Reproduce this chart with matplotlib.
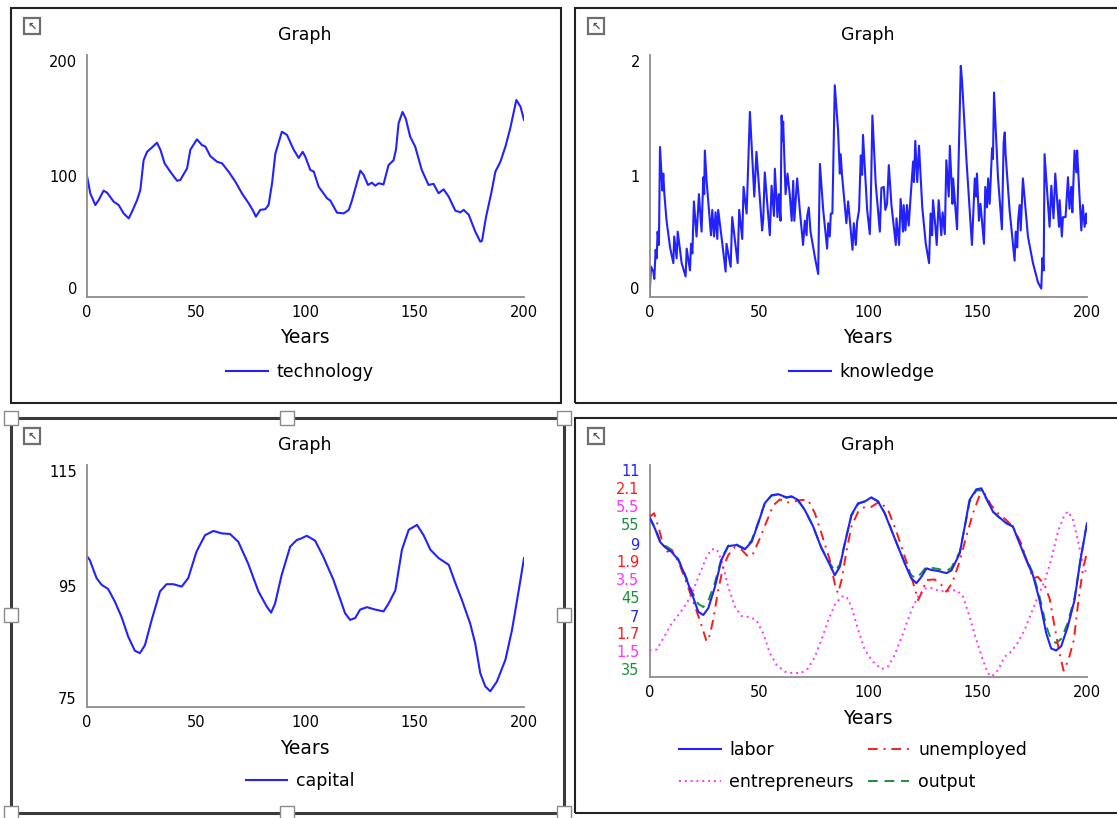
import matplotlib
matplotlib.use('Agg')
import matplotlib.pyplot as plt
from matplotlib.patches import Rectangle

# technology (top left)
tech_years = [0, 1.5, 3.8, 5.3, 7.6, 9.2, 12.2, 14.5, 16.8, 19.1, 20.6, 22.9, 24.4, 25.9, 27.5, 29.8, 32, 33.6,
              35.5, 38.1, 41.2, 42.7, 45.8, 47.3, 50.3, 52.6, 54.2, 56.4, 59.5, 61.8, 64.8, 67.9, 70.9, 74, 75.8,
              77.3, 79.3, 81.6, 83.1, 84.7, 86.2, 89.2, 91.5, 94.6, 96.9, 98.7, 99.9, 102.2, 103.8, 106, 109.9,
              111.4, 114.4, 117.5, 119.8, 121.3, 123.6, 125.1, 126.6, 128.6, 130.4, 131.9, 133.5, 135.7, 138,
              140.3, 141.4, 142.6, 144.4, 145.9, 147.9, 150.2, 153.2, 156.3, 158.6, 160.9, 163.2, 165.5, 168.6,
              170.9, 172.4, 174.7, 177.7, 180, 180.8, 182.6, 185, 186.9, 189.2, 191.5, 193.7, 196.5, 198.4, 200]
technology = [100, 85.7, 76, 80, 87.9, 86.2, 78.8, 76, 69, 65, 70.5, 80, 88.4, 113, 120, 123.7, 127.5, 121.7,
              110.5, 103.6, 96.1, 96.7, 106.3, 121.7, 130.3, 125.6, 124.3, 116.5, 111.8, 110.5, 103.6, 95.3, 85.7,
              77.4, 72, 66.4, 72, 72.6, 76, 94, 118.5, 136.6, 134, 121.7, 114.9, 120, 116, 105, 103.6, 91.2, 81.5,
              79.6, 69.7, 69.1, 72, 80, 95, 104.4, 101, 92.6, 94.5, 92, 94, 93, 109, 113, 121.7, 143.5, 153,
              147.4, 132.5, 124.3, 105, 92.6, 93.5, 85.7, 89, 83, 71.3, 70, 72, 68, 54, 45.7, 46.5, 66, 85.7,
              103.6, 111.8, 124.3, 139.4, 162.8, 157.3, 146.3]

# knowledge (top right)
know_years = [0, 0.7, 1.75, 2.2, 2.8, 3.3, 3.7, 4.3, 4.8, 5.9, 6.3, 6.8, 7.8, 9.4, 10.9, 11.3, 12.4, 12.9, 14.7,
              16.5, 17, 18.5, 19, 19.6, 20.3, 21.5, 22.6, 23.8, 24.6, 25, 25.3, 26.1, 28.1, 28.7, 29.5, 30.2, 31,
              31.4, 33.3, 34.8, 35.2, 37.1, 37.8, 40.3, 41, 42.4, 43, 44.4, 45.9, 47.9, 48.9, 50.5, 51.5, 52, 52.7,
              55, 55.8, 56.9, 57.3, 58.5, 59.1, 59.9, 60.4, 60.8, 61.1, 62.2, 63.1, 64.2, 65, 65.7, 66.2, 67.5,
              68.7, 70.2, 71, 71.8, 72.1, 72.8, 73.6, 75.6, 77.1, 77.9, 79.4, 81.2, 81.7, 82.4, 82.9, 83.6, 84.7,
              86.2, 87, 87.4, 88, 90, 90.8, 92.8, 93.4, 94.3, 94.9, 95.8, 96.6, 97.2, 97.6, 99.5, 100.7, 101.1,
              101.9, 103.4, 105.3, 106, 107.1, 107.8, 108.6, 109.4, 110.6, 112.6, 112.9, 114.1, 114.8, 115.9,
              116.2, 117, 117.7, 118.5, 119.3, 120.5, 120.9, 121.5, 122.4, 123.2, 124.7, 126.3, 127.8, 128.5,
              129.2, 129.6, 130.7, 131.3, 132.2, 133.4, 134, 135, 135.7, 136.8, 137.3, 138.5, 138.8, 140.6, 142.3,
              142.9, 144.9, 147.4, 148.7, 149.4, 149.7, 150.6, 151.3, 152.9, 153.5, 154.3, 154.8, 155.5, 156.6,
              157, 157.5, 159.3, 161.1, 161.9, 162.4, 162.8, 164.6, 166.9, 167.4, 168.1, 168.5, 169.2, 169.7,
              170.7, 173, 175.3, 177.6, 179.1, 179.6, 180.2, 180.6, 182.9, 183.7, 184.7, 185.5, 187.2, 187.5,
              188.5, 189, 190.2, 191.3, 192, 192.8, 193.3, 194.3, 195.1, 195.5, 197.4, 198.1, 198.9, 199.6, 200]
knowledge = [0, 0.25, 0.21, 0.15, 0.39, 0.32, 0.54, 0.43, 1.24, 0.88, 1.02, 0.85, 0.63, 0.41, 0.28, 0.50, 0.32,
             0.54, 0.28, 0.17, 0.40, 0.22, 0.44, 0.36, 0.79, 0.50, 0.85, 0.54, 0.99, 0.85, 1.21, 0.96, 0.51, 0.72,
             0.50, 0.70, 0.48, 0.72, 0.44, 0.21, 0.44, 0.25, 0.66, 0.28, 0.72, 0.48, 0.91, 0.69, 1.53, 0.83, 1.20,
             0.80, 0.55, 0.65, 1.03, 0.51, 0.92, 0.67, 1.06, 0.66, 0.85, 0.63, 1.50, 1.29, 1.45, 0.85, 1.02, 0.83,
             0.63, 0.96, 0.63, 0.98, 0.72, 0.43, 0.63, 0.51, 0.67, 0.74, 0.54, 0.33, 0.19, 1.10, 0.72, 0.40, 0.61,
             0.50, 0.69, 0.69, 1.75, 1.38, 1.02, 1.18, 1.01, 0.61, 0.79, 0.39, 0.61, 0.43, 0.62, 0.72, 1.17, 1.01,
             1.34, 0.72, 0.52, 0.73, 1.50, 0.94, 0.54, 0.90, 0.91, 0.72, 0.77, 1.09, 0.76, 0.43, 0.65, 0.43, 0.81,
             0.54, 0.76, 0.55, 0.76, 0.59, 0.81, 1.12, 0.95, 1.29, 0.95, 1.25, 0.74, 0.44, 0.28, 0.69, 0.51, 0.80,
             0.58, 0.43, 0.80, 0.51, 0.70, 0.52, 1.13, 0.83, 1.25, 0.77, 0.98, 0.56, 1.91, 1.78, 1.13, 0.43, 0.98,
             0.83, 1.02, 0.63, 0.77, 0.44, 0.91, 0.74, 0.98, 0.77, 1.23, 1.14, 1.69, 0.99, 0.56, 1.28, 1.36, 1.18,
             0.72, 0.30, 0.54, 0.41, 0.63, 0.76, 0.55, 0.98, 0.50, 0.28, 0.12, 0.07, 0.32, 0.22, 1.18, 0.58, 0.92,
             0.65, 1.02, 0.58, 0.80, 0.50, 0.66, 0.66, 0.99, 0.73, 0.91, 0.70, 1.21, 1.03, 1.21, 0.55, 0.76, 0.58,
             0.69, 0.61]

# capital (bottom left)
cap_years = [0, 1.5, 4.6, 6.9, 9.9, 13, 16, 19.1, 22.1, 24.4, 26.7, 29.8, 33.6, 36.6, 39.7, 43.5, 46.5, 50.3,
             54.2, 58, 61.8, 65.6, 69.4, 73.9, 78.6, 82.4, 84.4, 86.2, 89.2, 93.1, 96.1, 98.4, 100.7, 104.5, 108.3,
             112.9, 118.2, 120.5, 122.8, 125.1, 128.2, 132, 135.8, 138.1, 141.2, 144.2, 147.3, 151.1, 154.1, 157.2,
             161, 165.6, 168.6, 171.6, 175.4, 177.7, 180, 182.3, 184.6, 187.6, 191.5, 194.5, 197.6, 200]
capital = [100, 99.3, 96.3, 95.2, 94.5, 92.4, 89.9, 86.6, 84.3, 83.9, 85.2, 89.4, 94.1, 95.3, 95.3, 94.9, 96.3,
           100.7, 103.4, 104.1, 103.7, 103.6, 102.3, 98.7, 94.1, 91.6, 90.6, 92.1, 96.8, 101.5, 102.6, 102.9,
           103.3, 102.5, 99.8, 96, 90.5, 89.4, 89.7, 91.1, 91.5, 91.1, 90.8, 92.1, 94.3, 101, 104.3, 105.1, 103.4,
           101, 99.6, 98.5, 95.5, 92.7, 88.8, 85.5, 80.6, 78.4, 77.6, 79.2, 82.8, 87.7, 94.3, 99.6]

# labor / output (bottom right)
lab_years = [0, 2.5, 4.8, 7.1, 10.1, 13.2, 16.2, 19.3, 22.3, 24.6, 26.9, 29.9, 32.9, 36, 39.8, 43.6, 46.7, 49.7,
             52.7, 55.8, 58.8, 62.6, 64.9, 67.9, 71, 74.8, 78.6, 81.7, 84.7, 87, 89.3, 92.3, 95.4, 98.4, 101.4,
             104.5, 107.5, 110.6, 113.6, 116.7, 119.7, 122, 124.3, 126.6, 128.8, 131.9, 135.7, 138, 141.8, 144.1,
             146.3, 149.4, 151.7, 154, 157, 160, 163.1, 166.1, 169.2, 172.2, 175.3, 178.3, 181.4, 183.6, 185.9,
             188.2, 191.2, 194.3, 197, 200]
labor = [10.01, 9.80, 9.55, 9.45, 9.36, 9.21, 8.92, 8.58, 8.23, 8.17, 8.30, 8.70, 9.21, 9.47, 9.49, 9.41, 9.55,
         9.90, 10.28, 10.43, 10.45, 10.39, 10.41, 10.34, 10.15, 9.84, 9.43, 9.18, 8.92, 9.08, 9.52, 10.06, 10.28,
         10.31, 10.39, 10.31, 10.09, 9.77, 9.46, 9.14, 8.86, 8.77, 8.89, 9.05, 9.02, 9.0, 8.96, 9.01, 9.33, 9.84,
         10.34, 10.54, 10.56, 10.37, 10.12, 10.01, 9.90, 9.84, 9.52, 9.21, 8.92, 8.45, 7.82, 7.54, 7.50, 7.58,
         7.95, 8.45, 9.21, 9.90]
output = [50.1, 49.1, 47.9, 47.4, 47.0, 46.1, 44.7, 43.1, 41.9, 41.6, 42.2, 43.9, 46.2, 47.4, 47.5, 47.1, 47.9,
          49.6, 51.4, 52.1, 52.2, 51.9, 52.0, 51.6, 50.8, 49.2, 47.2, 46.0, 45.0, 45.6, 47.7, 50.2, 51.3, 51.6,
          51.9, 51.6, 50.5, 48.9, 47.3, 45.8, 44.6, 44.3, 44.8, 45.4, 45.3, 45.2, 45.0, 45.3, 46.8, 49.1, 51.5,
          52.6, 52.6, 51.8, 50.6, 50.0, 49.6, 49.2, 47.7, 46.2, 44.8, 42.6, 39.8, 38.5, 38.2, 38.6, 40.1, 42.5,
          46.0, 49.6]

unemp_years = [0, 2.1, 4, 6.3, 7.8, 10.1, 13.2, 17, 20.8, 23.5, 26.1, 27.6, 29.1, 31.4, 33.7, 36, 39, 42.1, 45.1,
               47.4, 50.5, 53.5, 56.6, 59.6, 62.6, 65.7, 69.5, 72.5, 75.6, 78.6, 82.4, 85, 86.2, 87.8, 90, 92.3,
               95.4, 98.4, 101.4, 105.2, 109.1, 112.9, 116.7, 119.7, 122.8, 124.6, 126.6, 130.4, 133.4, 135.7,
               138.3, 141.8, 144.8, 147.9, 150.9, 153.2, 156.2, 159.3, 163.1, 166.1, 169.9, 173, 175.3, 177.5,
               180.6, 182.9, 185.2, 187.4, 189.3, 191.5, 194, 196.1, 198.1, 200]
unemployed = [2.002, 2.009, 1.984, 1.949, 1.936, 1.940, 1.918, 1.877, 1.833, 1.801, 1.767, 1.779, 1.808, 1.864,
              1.908, 1.930, 1.945, 1.940, 1.927, 1.933, 1.962, 1.993, 2.024, 2.035, 2.029, 2.031, 2.034, 2.034,
              2.009, 1.971, 1.921, 1.870, 1.858, 1.883, 1.936, 1.984, 2.012, 2.021, 2.021, 2.031, 2.015, 1.974,
              1.927, 1.889, 1.845, 1.861, 1.883, 1.884, 1.874, 1.861, 1.877, 1.918, 1.965, 2.009, 2.043, 2.046,
              2.024, 2.009, 1.996, 1.984, 1.952, 1.914, 1.886, 1.889, 1.874, 1.848, 1.795, 1.745, 1.712, 1.732,
              1.770, 1.845, 1.902, 1.936]

ent_years = [0, 3.3, 6.3, 10.1, 13.2, 17, 20, 23.1, 26.1, 28.4, 30.7, 32.9, 36, 39, 42.1, 45.9, 48.9, 52, 55,
             58.1, 61.9, 65.7, 69.5, 72.5, 75.6, 78.6, 81.7, 84.7, 87.8, 90, 92.3, 95.4, 98.4, 102.2, 106, 109.1,
             112.1, 115.9, 119.7, 122.8, 125.8, 128.8, 132.6, 136.5, 140.3, 143.3, 146.3, 149.4, 152.4, 154.7,
             156.5, 159.3, 162.3, 165.4, 168.4, 171.5, 174.5, 177.5, 180.6, 183.6, 186.7, 189.7, 191.2, 193.5,
             195.8, 198.1, 200]
entrepreneurs = [2.0, 2.02, 2.23, 2.51, 2.67, 2.89, 3.14, 3.46, 3.77, 3.91, 3.91, 3.71, 3.20, 2.83, 2.65, 2.63,
                 2.57, 2.32, 1.95, 1.73, 1.60, 1.57, 1.58, 1.66, 1.88, 2.20, 2.57, 2.86, 3.02, 3.02, 2.83, 2.39,
                 2.01, 1.79, 1.65, 1.70, 1.92, 2.32, 2.76, 3.02, 3.17, 3.18, 3.12, 3.12, 3.14, 3.02, 2.64, 2.20,
                 1.82, 1.57, 1.51, 1.63, 1.88, 1.98, 2.15, 2.39, 2.70, 3.02, 3.30, 3.71, 4.24, 4.56, 4.62, 4.49,
                 4.08, 3.64, 3.42]

x_ticks = [0, 50, 100, 150, 200]
labor_ticks = [11, 9, 7]
unemp_ticks = [2.1, 1.9, 1.7]
ent_ticks = [5.5, 3.5, 1.5]
output_ticks = [55, 45, 35]

BLUE = '#2222ff'
RED = '#ff1a1a'
MAGENTA = '#ff33ff'
GREEN = '#1a8f3c'

plt.rcParams['font.family'] = ['DejaVu Sans']

W, H = 1117, 818
fig = plt.figure(figsize=(W / 100, H / 100), dpi=100)


def fx(x):
    return x / W


def fy(y):
    return 1 - y / H


def rect_px(x0, y0, x1, y1, **kw):
    fig.add_artist(Rectangle((fx(x0), fy(y1)), (x1 - x0) / W, (y1 - y0) / H,
                             transform=fig.transFigure, **kw))


def panel(x0, y0, x1, y1, lw=1.5, color='#222222'):
    rect_px(x0, y0, x1, y1, fill=False, lw=lw, edgecolor=color)
    # little "zoom" icon in the corner
    ix, iy = x0 + 13, y0 + 10
    rect_px(ix, iy, ix + 16, iy + 16, facecolor='white', edgecolor='#6e6e6e', lw=1.6)
    fig.text(fx(ix + 8), fy(iy + 8.5), '\u2196', ha='center', va='center', fontsize=8,
             color='#555555', fontweight='bold')


def add_axes_px(l, t, r, b):
    return fig.add_axes([fx(l), fy(b), (r - l) / W, (b - t) / H])


def style_axes(ax, ylim, yticks):
    ax.set_xlim(0, 200)
    ax.set_ylim(*ylim)
    ax.patch.set_alpha(0)
    for s in ['top', 'right']:
        ax.spines[s].set_visible(False)
    for s in ['left', 'bottom']:
        ax.spines[s].set_color('#8c8c8c')
        ax.spines[s].set_linewidth(1.3)
    ax.set_xticks(x_ticks)
    ax.set_yticks(yticks)
    ax.tick_params(axis='x', length=0, labelsize=10.5, pad=6)
    ax.tick_params(axis='y', length=0, labelsize=10.5, pad=7)
    if len(yticks):
        ticks = ax.yaxis.get_major_ticks()
        ticks[0].label1.set_verticalalignment('bottom')
        ticks[-1].label1.set_verticalalignment('top')


def texts(cx, title_y, years_y):
    fig.text(fx(cx), fy(title_y), 'Graph', ha='center', va='center', fontsize=12.5)
    fig.text(fx(cx), fy(years_y), 'Years', ha='center', va='center', fontsize=13.5)


def single_legend(ax, line, label, cx, y):
    ax.legend([line], [label], loc='center', bbox_to_anchor=(fx(cx), fy(y)),
              bbox_transform=fig.transFigure, frameon=False, fontsize=12.5,
              handlelength=2.4, handletextpad=0.5)


# frames
panel(11, 8, 561, 403)
panel(575, 8, 1125, 403)
panel(11, 418, 564, 813, lw=2.2, color='#3a3a3a')
panel(575, 418, 1125, 813)
for hx, hy in [(11, 418), (287, 418), (564, 418), (11, 615), (564, 615), (11, 813), (287, 813), (564, 813)]:
    rect_px(hx - 7, hy - 7, hx + 7, hy + 7, facecolor='white', edgecolor='#8a8a8a', lw=1)

# technology
ax1 = add_axes_px(87, 55, 524, 297)
style_axes(ax1, (0, 200), [0, 100, 200])
l1, = ax1.plot(tech_years, technology, color=BLUE, lw=1.5)
texts(305, 35, 338)
single_legend(ax1, l1, 'technology', 300, 372)

# knowledge
ax2 = add_axes_px(649.5, 55, 1087, 297)
style_axes(ax2, (0, 2), [0, 1, 2])
l2, = ax2.plot(know_years, knowledge, color=BLUE, lw=1.5)
texts(868, 35, 338)
single_legend(ax2, l2, 'knowledge', 862, 372)

# capital
ax3 = add_axes_px(86.5, 465, 524, 707)
style_axes(ax3, (75, 115), [75, 95, 115])
l3, = ax3.plot(cap_years, capital, color=BLUE, lw=1.5)
texts(305, 445, 748)
single_legend(ax3, l3, 'capital', 300, 781)

# labor, unemployed, entrepreneurs, output on their own scales
ax4 = add_axes_px(649.5, 465, 1087, 677)
style_axes(ax4, (35, 55), [])
ax_e = ax4.twinx()
ax_u = ax4.twinx()
ax_l = ax4.twinx()
for tw, lim in [(ax_e, (1.5, 5.5)), (ax_u, (1.7, 2.1)), (ax_l, (7, 11))]:
    tw.set_ylim(*lim)
    tw.set_yticks([])
    for s in tw.spines.values():
        s.set_visible(False)

lo, = ax4.plot(lab_years, output, color=GREEN, lw=1.4, linestyle=(0, (5, 3.5)))
le, = ax_e.plot(ent_years, entrepreneurs, color=MAGENTA, lw=1.4, linestyle=(0, (1, 2)))
lu, = ax_u.plot(unemp_years, unemployed, color=RED, lw=1.4, linestyle=(0, (5, 3, 1, 3)))
ll, = ax_l.plot(lab_years, labor, color=BLUE, lw=1.5)

scales = [(ax_l, labor_ticks, BLUE), (ax_u, unemp_ticks, RED),
          (ax_e, ent_ticks, MAGENTA), (ax4, output_ticks, GREEN)]
group_base = [7, -26, -60]
for i, (tax, tvals, col) in enumerate(scales):
    for j, v in enumerate(tvals):
        off = group_base[j] + 17.7 * i
        tax.annotate('{:g}'.format(v), xy=(0, v), xycoords=tax.get_yaxis_transform(),
                     xytext=(-10, -off), textcoords='offset pixels', ha='right', va='center',
                     color=col, fontsize=10.5)

texts(868, 445, 718)
ax_l.legend([ll, le, lu, lo], ['labor', 'entrepreneurs', 'unemployed', 'output'], ncol=2,
            loc='center', bbox_to_anchor=(fx(853), fy(766)), bbox_transform=fig.transFigure,
            frameon=False, fontsize=12.5, handlelength=2.4, handletextpad=0.5,
            columnspacing=0.8, labelspacing=0.8)

fig.savefig('out.png', dpi=100)
